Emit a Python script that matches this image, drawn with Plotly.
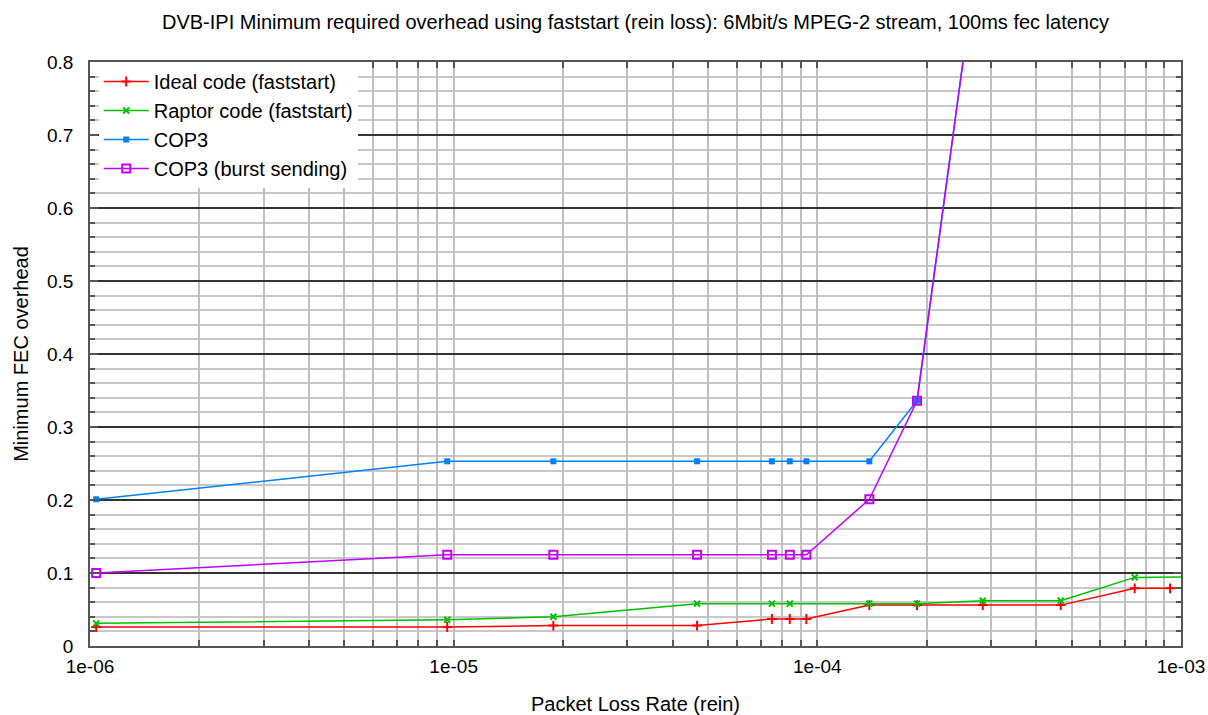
import plotly.graph_objects as go

# ---- data ----
x_ideal = [1.04e-06, 9.6e-06, 1.88e-05, 4.67e-05, 7.5e-05, 8.4e-05, 9.33e-05,
           1.39e-04, 1.88e-04, 2.85e-04, 4.67e-04, 7.46e-04, 9.33e-04, 1.2e-03]
y_ideal = [0.026, 0.026, 0.028, 0.028, 0.037, 0.037, 0.037,
           0.056, 0.056, 0.056, 0.056, 0.079, 0.079, 0.079]

x_raptor = [1.04e-06, 9.6e-06, 1.88e-05, 4.67e-05, 7.5e-05, 8.4e-05,
            1.39e-04, 1.88e-04, 2.85e-04, 4.67e-04, 7.46e-04, 1.2e-03]
y_raptor = [0.031, 0.036, 0.040, 0.058, 0.058, 0.058,
            0.058, 0.058, 0.062, 0.062, 0.094, 0.095]

x_cop3 = [1.04e-06, 9.6e-06, 1.88e-05, 4.67e-05, 7.5e-05, 8.4e-05, 9.33e-05,
          1.39e-04, 1.88e-04, 2.85e-04]
y_cop3 = [0.201, 0.253, 0.253, 0.253, 0.253, 0.253, 0.253,
          0.253, 0.336, 1.0]

x_burst = [1.04e-06, 9.6e-06, 1.88e-05, 4.67e-05, 7.5e-05, 8.4e-05, 9.33e-05,
           1.39e-04, 1.88e-04, 2.85e-04]
y_burst = [0.100, 0.125, 0.125, 0.125, 0.125, 0.125, 0.125,
           0.201, 0.336, 1.0]

names = ["Ideal code (faststart)", "Raptor code (faststart)", "COP3", "COP3 (burst sending)"]
y_ticks = [0, 0.1, 0.2, 0.3, 0.4, 0.5, 0.6, 0.7, 0.8]
y_tick_text = ["0", "0.1", "0.2", "0.3", "0.4", "0.5", "0.6", "0.7", "0.8"]
decades = [1e-06, 1e-05, 1e-04, 1e-03]
decade_text = ["1e-06", "1e-05", "1e-04", "1e-03"]

title = "DVB-IPI Minimum required overhead using faststart (rein loss): 6Mbit/s MPEG-2 stream, 100ms fec latency"
x_title = "Packet Loss Rate (rein)"
y_title = "Minimum FEC overhead"

FONT = "Liberation Sans, Arial, sans-serif"
FS = 20
TFS = 19

W, H = 1208, 715

# log x ticks at every 1..9 of each decade, labels only on decades
x_tickvals, x_ticktext = [], []
for i, d in enumerate(decades[:-1]):
    for m in range(1, 10):
        x_tickvals.append(d * m)
        x_ticktext.append(decade_text[i] if m == 1 else "")
x_tickvals.append(decades[-1])
x_ticktext.append(decade_text[-1])

fig = go.Figure()
fig.add_trace(go.Scatter(x=x_ideal, y=y_ideal, name=names[0], mode="lines+markers",
                         line=dict(color="#ff0000", width=1.5),
                         marker=dict(symbol="cross-thin", size=7, line=dict(color="#ff0000", width=2))))
fig.add_trace(go.Scatter(x=x_raptor, y=y_raptor, name=names[1], mode="lines+markers",
                         line=dict(color="#00c000", width=1.5),
                         marker=dict(symbol="x-thin", size=6, line=dict(color="#00c000", width=2))))
fig.add_trace(go.Scatter(x=x_cop3, y=y_cop3, name=names[2], mode="lines+markers",
                         line=dict(color="#0080ff", width=1.5),
                         marker=dict(symbol="square", size=6, color="#0080ff")))
fig.add_trace(go.Scatter(x=x_burst, y=y_burst, name=names[3], mode="lines+markers",
                         line=dict(color="#c000ff", width=1.5),
                         marker=dict(symbol="square-open", size=8, color="#c000ff",
                                     line=dict(color="#c000ff", width=2))))

fig.update_layout(
    width=W, height=H,
    margin=dict(l=90, r=27, t=62, b=69, autoexpand=False),
    paper_bgcolor="white", plot_bgcolor="white",
    font=dict(family=FONT, size=FS, color="#000000"),
    title=dict(text=title, x=0.5, xanchor="center", xref="paper",
               y=1 - 22 / H, yref="container", yanchor="middle",
               font=dict(family=FONT, size=FS, color="#000000")),
    showlegend=True,
    legend=dict(x=0.008, y=1.0, xanchor="left", yanchor="top",
                bgcolor="white", borderwidth=0,
                font=dict(family=FONT, size=FS), tracegroupgap=0,
                itemwidth=45),
)

fig.update_xaxes(
    type="log", range=[-6, -3], automargin=False,
    tickvals=x_tickvals, ticktext=x_ticktext,
    showgrid=True, gridcolor="#c0c0c0", gridwidth=1.5,
    ticks="inside", ticklen=6, tickcolor="#555555", tickwidth=1.5,
    showline=True, linecolor="#555555", linewidth=1.5, mirror="allticks",
    zeroline=False, ticklabelstandoff=2,
    tickfont=dict(family=FONT, size=TFS),
    title=dict(text=x_title, font=dict(family=FONT, size=FS), standoff=36),
)
fig.update_yaxes(
    range=[0, 0.8], tickvals=y_ticks, ticktext=y_tick_text, automargin=False,
    showgrid=True, gridcolor="#333333", gridwidth=1.5,
    ticks="inside", ticklen=8, tickcolor="#555555", tickwidth=1.5,
    minor=dict(dtick=0.02, showgrid=True, gridcolor="#c8c8c8", gridwidth=1.5,
               ticks="inside", ticklen=5, tickcolor="#555555"),
    showline=True, linecolor="#555555", linewidth=1.5, mirror="allticks",
    zeroline=False, ticklabelstandoff=11,
    tickfont=dict(family=FONT, size=TFS),
    title=dict(text=y_title, font=dict(family=FONT, size=FS), standoff=13),
)

# remove the default 8px page margin so the figure fills the window exactly
fig.write_html("out.html",
               config={"displayModeBar": False},
               post_script="document.body.style.margin='0';document.body.style.overflow='hidden';")
